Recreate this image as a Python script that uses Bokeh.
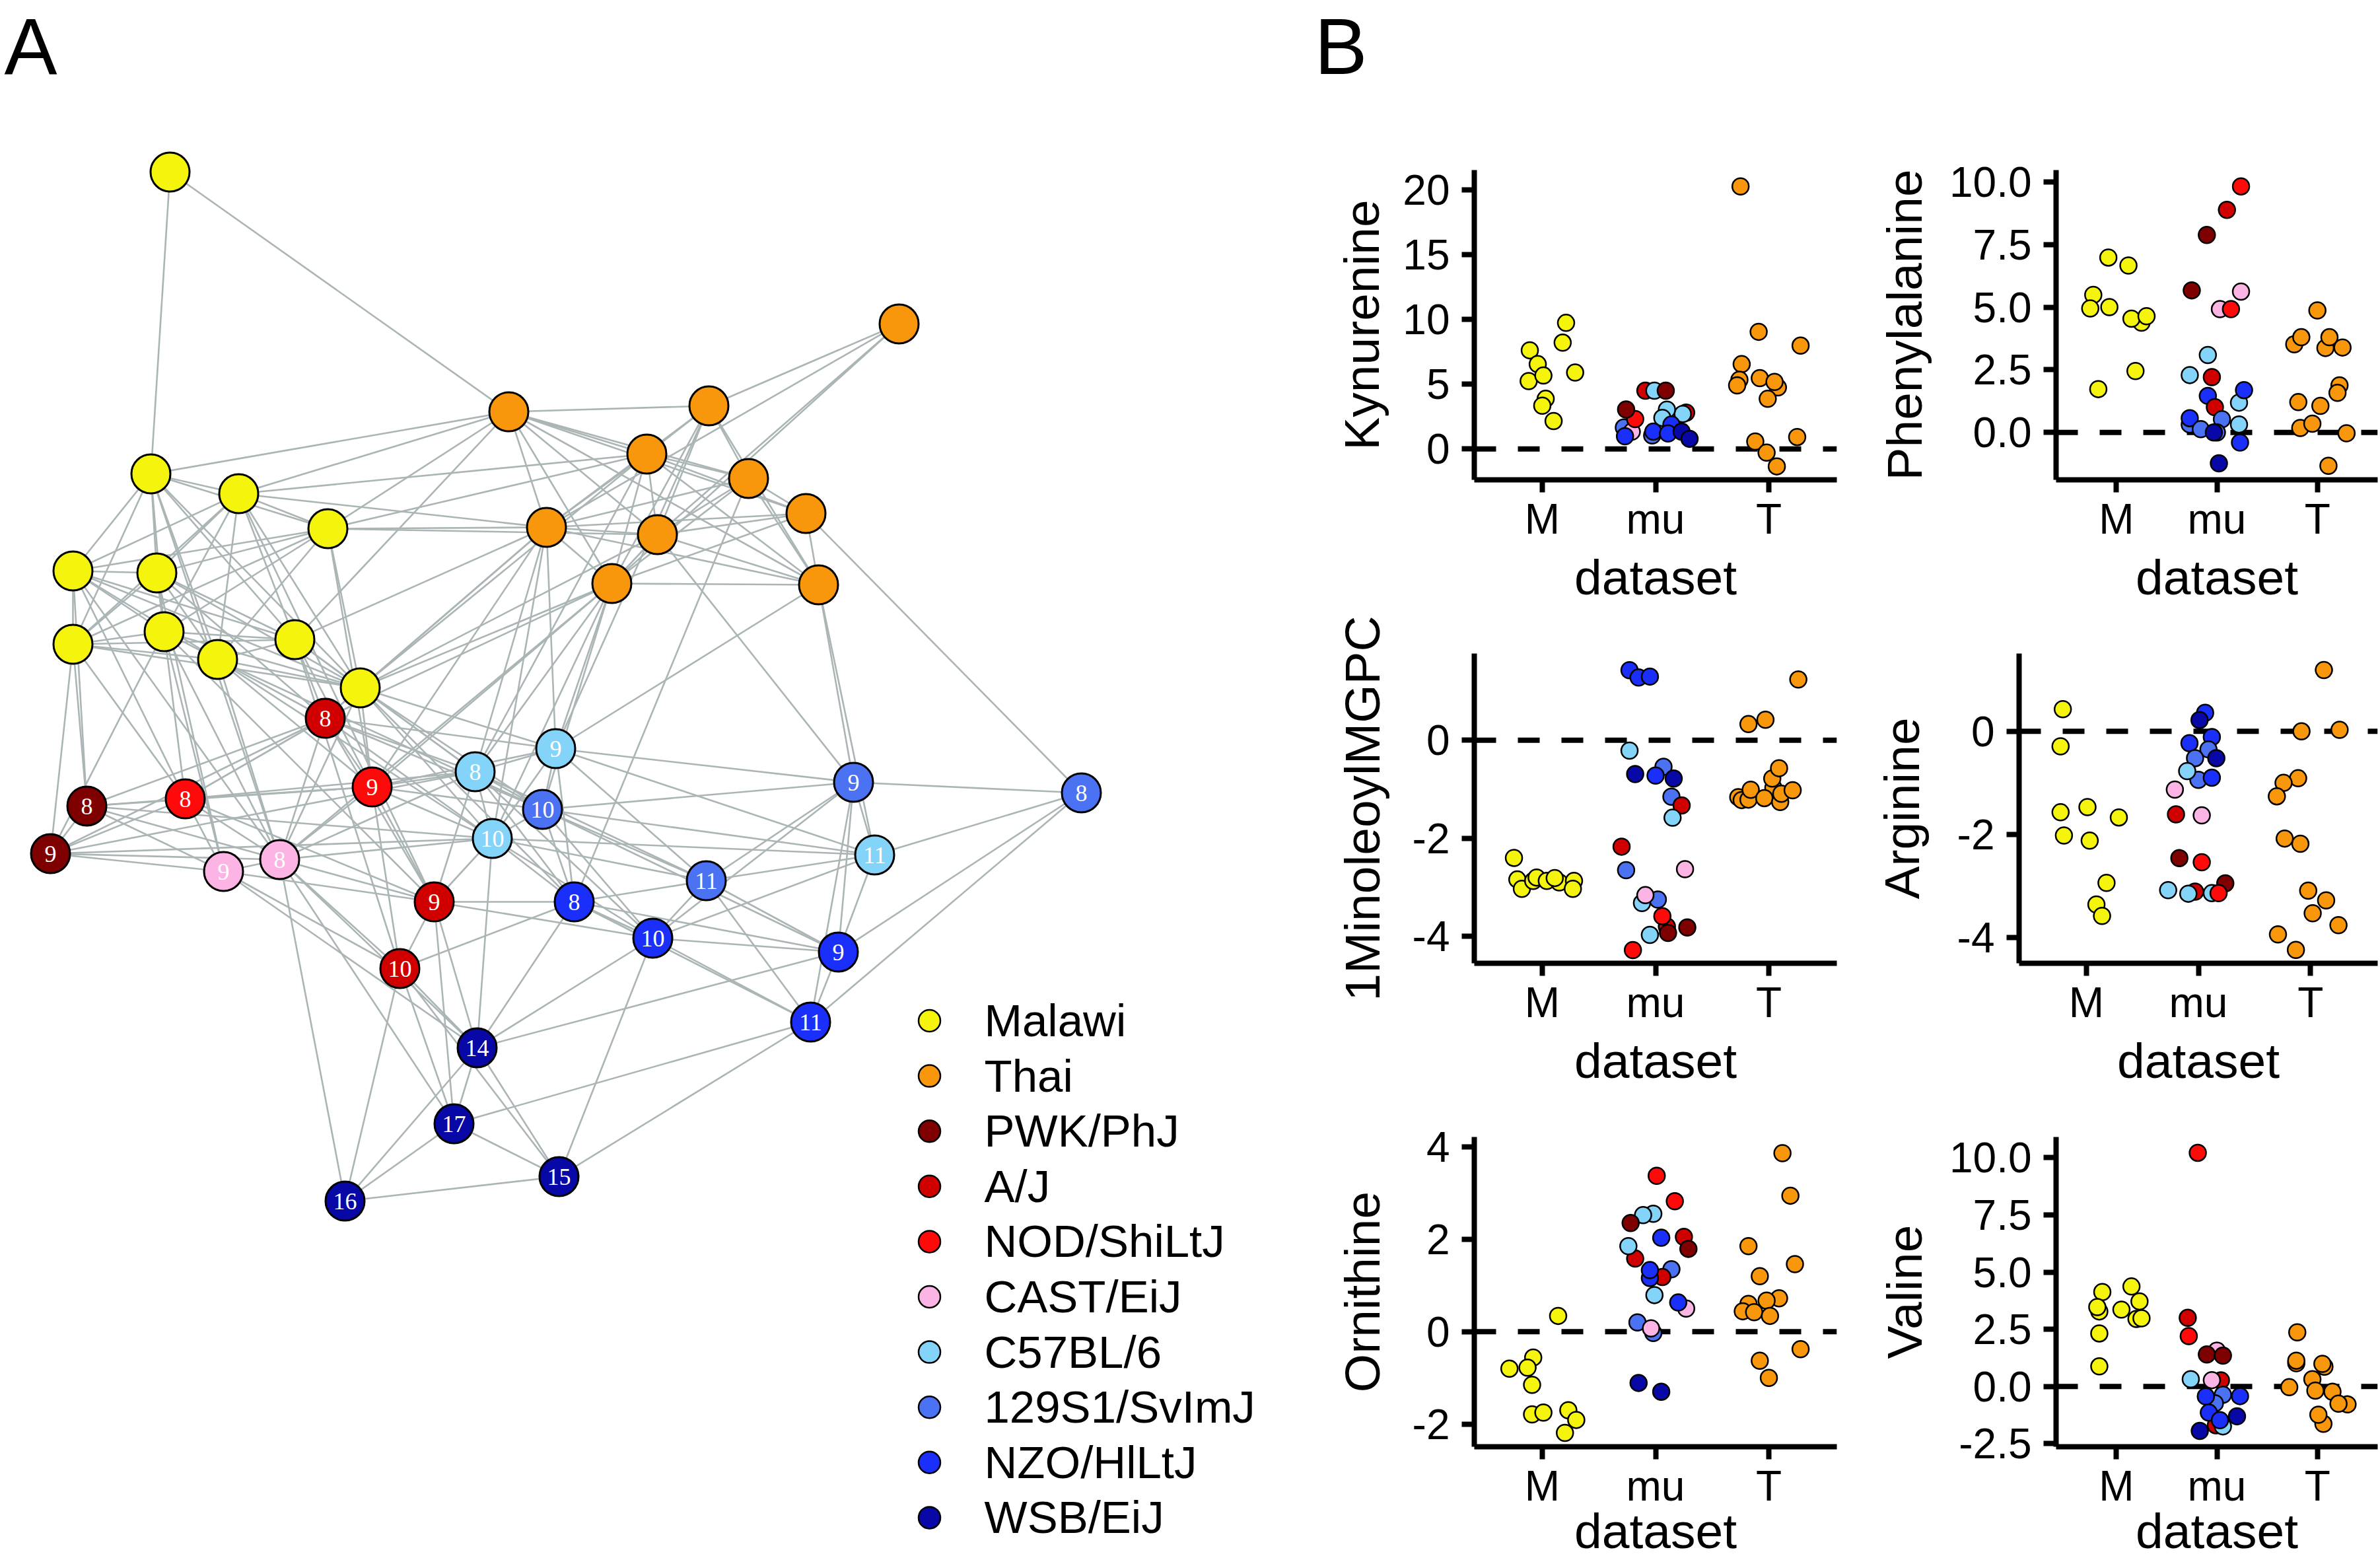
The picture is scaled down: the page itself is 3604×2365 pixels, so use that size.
from bokeh.plotting import figure
from bokeh.layouts import row, column
from bokeh.models import Range1d, FixedTicker, Span, ColumnDataSource
from bokeh.embed import file_html
from bokeh.resources import INLINE
from bokeh.core.properties import value

# ---------------- data ----------------
group_codes = ["M", "T", "PWK", "AJ", "NOD", "CAST", "B6", "129", "NZO", "WSB"]
group_names = ["Malawi", "Thai", "PWK/PhJ", "A/J", "NOD/ShiLtJ", "CAST/EiJ",
               "C57BL/6", "129S1/SvImJ", "NZO/HlLtJ", "WSB/EiJ"]
group_colors = ["#f4f40c", "#f8960c", "#7f0000", "#d10000", "#ff0a0a", "#fbb4e4",
                "#84d4fa", "#4a72f2", "#1a30fa", "#0808a6"]

# network (panel A): node positions (pixel layout)
node_id = ["Y0", "Y1", "Y2", "Y3", "Y4", "Y5", "Y6", "Y7", "Y8", "Y9", "Y10",
           "O0", "O1", "O2", "O3", "O4", "O5", "O6", "O7", "O8", "O9",
           "AJ8", "AJ9", "AJ10", "NOD8", "NOD9", "PWK8", "PWK9", "CAST8", "CAST9",
           "B6_8", "B6_9", "B6_10", "B6_11", "S8", "S9", "S10", "S11",
           "N8", "N9", "N10", "N11", "W14", "W15", "W16", "W17"]
node_x = [257, 228, 361, 496, 110, 237, 110, 248, 329, 446, 545,
          1361, 770, 1073, 979, 1133, 1220, 827, 995, 926, 1239,
          492, 657, 605, 280, 563, 131, 76, 423, 338,
          719, 841, 745, 1324, 1637, 1292, 821, 1069,
          869, 1269, 988, 1227, 722, 846, 522, 687]
node_y = [260, 717, 747, 800, 864, 867, 975, 956, 998, 968, 1041,
          490, 623, 614, 687, 724, 777, 798, 809, 883, 885,
          1087, 1365, 1466, 1209, 1191, 1220, 1292, 1301, 1319,
          1168, 1133, 1269, 1294, 1200, 1184, 1225, 1333,
          1365, 1441, 1420, 1547, 1586, 1781, 1818, 1701]
node_group = ["M"] * 11 + ["T"] * 10 + ["AJ", "AJ", "AJ", "NOD", "NOD", "PWK", "PWK", "CAST", "CAST",
                                        "B6", "B6", "B6", "B6", "129", "129", "129", "129",
                                        "NZO", "NZO", "NZO", "NZO", "WSB", "WSB", "WSB", "WSB"]
node_label = [""] * 21 + ["8", "9", "10", "8", "9", "8", "9", "8", "9",
                          "8", "9", "10", "11", "8", "9", "10", "11",
                          "8", "9", "10", "11", "14", "15", "16", "17"]
edges = """Y0-Y1 Y1-Y2 Y1-Y3 Y1-Y4 Y1-Y5 Y1-Y6 Y1-Y7 Y1-Y8 Y1-Y9 Y1-Y10
Y2-Y3 Y2-Y4 Y2-Y5 Y2-Y6 Y2-Y7 Y2-Y8 Y2-Y9 Y2-Y10 Y3-Y4 Y3-Y5 Y3-Y6 Y3-Y7 Y3-Y8 Y3-Y10
Y4-Y5 Y4-Y6 Y4-Y7 Y4-Y8 Y4-Y9 Y4-Y10 Y5-Y6 Y5-Y7 Y5-Y8 Y5-Y9 Y5-Y10 Y6-Y7 Y6-Y8 Y6-Y9 Y6-Y10
Y7-Y8 Y7-Y9 Y7-Y10 Y8-Y9 Y8-Y10 Y9-Y10
Y0-O1 Y1-O1 Y2-O1 Y2-O3 Y2-O6 Y3-O1 Y3-O3 Y3-O6 Y3-O7 Y9-O1 Y9-O6 Y10-O6 Y10-O8 Y10-O3 Y10-O7
O0-O2 O0-O6 O0-O7 O0-O8 O1-O2 O1-O3 O1-O4 O1-O5 O1-O6 O1-O7 O1-O8 O1-O9
O2-O3 O2-O4 O2-O6 O2-O7 O2-O8 O2-O9 O3-O4 O3-O5 O3-O6 O3-O7 O3-O8 O3-O9
O4-O5 O4-O6 O4-O7 O4-O8 O4-O9 O5-O6 O5-O7 O5-O8 O5-O9 O6-O7 O6-O8 O6-O9 O7-O8 O7-O9 O8-O9
O5-S8 O9-S9 O9-B6_11 O9-B6_9 O7-S9 O8-B6_8 O8-B6_9 O8-S10 O8-B6_10 O8-AJ8 O8-NOD9
O6-B6_9 O6-B6_8 O6-AJ8 O6-NOD9 O6-B6_10 O3-B6_8 O2-B6_9 O4-N8 O8-CAST8
Y6-PWK8 Y6-PWK9 Y4-PWK8 Y4-NOD8 Y5-NOD8 Y5-CAST9 Y5-AJ8 Y7-CAST9 Y7-CAST8 Y7-PWK9 Y7-AJ9
Y8-AJ8 Y8-NOD9 Y8-CAST8 Y8-B6_10 Y9-AJ8 Y9-NOD9 Y9-AJ10 Y10-AJ8 Y10-B6_8 Y10-B6_9 Y10-S10
Y10-NOD9 Y10-B6_10 Y10-N8 Y10-CAST8 Y3-NOD9 Y1-CAST8 Y2-AJ9 Y6-NOD8 Y4-CAST8 Y8-S10 Y9-B6_8
PWK8-PWK9 PWK8-NOD8 PWK8-NOD9 PWK8-AJ8 PWK8-CAST8 PWK8-CAST9 PWK8-B6_10
PWK9-CAST9 PWK9-CAST8 PWK9-B6_10 PWK9-NOD8 PWK9-AJ8 PWK9-B6_8
NOD8-AJ8 NOD8-NOD9 NOD8-CAST8 NOD8-CAST9 NOD8-AJ9 NOD8-B6_8
AJ8-NOD9 AJ8-B6_8 AJ8-B6_9 AJ8-B6_10 AJ8-S10 AJ8-AJ9 AJ8-CAST8
NOD9-B6_8 NOD9-B6_9 NOD9-CAST8 NOD9-AJ9 NOD9-B6_10 NOD9-S10 NOD9-AJ10
CAST8-CAST9 CAST8-B6_8 CAST8-B6_10 CAST8-AJ9 CAST8-AJ10 CAST8-W14 CAST8-W16 CAST8-W17
CAST9-AJ10 CAST9-W14 CAST9-AJ9
B6_8-B6_9 B6_8-B6_10 B6_8-S10 B6_8-N8 B6_8-N10 B6_8-AJ9 B6_8-S11
B6_9-S10 B6_9-B6_10 B6_9-S11 B6_9-N8 B6_9-B6_11 B6_9-S9
S10-B6_10 S10-N8 S10-N10 S10-S11 S10-S9 S10-B6_11 S10-N9
B6_10-AJ9 B6_10-N8 B6_10-N10 B6_10-S11 B6_10-W14 B6_10-B6_11
AJ9-N8 AJ9-AJ10 AJ9-W14 AJ9-W17 AJ9-N10 N8-N10 N8-N9 N8-S11 N8-W14 N8-AJ10 N8-N11
S11-N10 S11-N9 S11-N11 S11-B6_11 S11-S9 S9-S8 S9-B6_11 S9-N9 S9-N11 S9-N10
S8-B6_11 S8-N11 S8-N9 B6_11-N9 B6_11-N10 N10-N9 N10-N11 N10-W15 N10-W14 N9-N11 N9-W14
N11-W17 N11-W15 AJ10-W14 AJ10-W17 AJ10-W16 AJ10-W15 W14-W17 W14-W15 W14-W16
W17-W15 W17-W16 W15-W16""".split()

# panel B: x categories and metabolite titles
x_categories = ["M", "mu", "T"]
x_title = "dataset"

kyn_x = [0.89, 0.96, 0.88, 1.01, 1.03, 1.00, 1.10, 1.18, 1.21, 1.29,
         1.91, 1.99, 2.09, 1.72, 1.79, 1.82, 1.74, 1.73, 2.27, 2.24, 2.10, 2.06, 1.97, 1.98, 2.14, 2.11, 2.23, 2.30,
         2.75, 2.91, 3.28, 2.76, 2.74, 2.72, 2.92, 3.08, 3.05, 2.99, 2.88, 3.25, 2.98, 3.07]
kyn_y = [7.62, 6.55, 5.24, 5.67, 3.87, 3.34, 2.15, 8.21, 9.74, 5.90,
         4.50, 4.50, 4.50, 1.66, 1.33, 2.31, 3.05, 0.98, 2.80, 2.70, 3.03, 2.40, 1.04, 1.33, 1.88, 1.19, 1.33, 0.78,
         20.29, 9.05, 7.98, 6.55, 5.34, 4.91, 5.47, 4.75, 5.18, 3.87, 0.57, 0.92, -0.29, -1.35]
kyn_g = ["M"] * 10 + ["AJ", "B6", "PWK", "129", "CAST", "NOD", "PWK", "NZO", "AJ", "B6", "B6", "B6",
                      "129", "NZO", "NZO", "NZO", "WSB", "WSB"] + ["T"] * 14

phe_x = [0.92, 1.12, 0.77, 0.74, 0.93, 1.25, 1.15, 1.30, 1.19, 0.82,
         2.24, 2.10, 1.90, 1.75, 2.24, 2.03, 2.14, 1.91, 1.73, 1.95, 2.22, 2.27, 1.91, 1.98, 1.73, 1.73,
         1.84, 2.05, 2.00, 1.97, 2.22, 2.23, 2.02,
         3.00, 2.77, 2.84, 3.08, 3.12, 3.25, 3.22, 3.20, 2.81, 3.03, 2.83, 2.95, 3.29, 3.11]
phe_y = [6.98, 6.66, 5.49, 4.95, 5.00, 4.38, 4.54, 4.64, 2.45, 1.73,
         9.82, 8.88, 7.88, 5.67, 5.62, 4.92, 4.92, 3.09, 2.29, 2.21, 1.19, 1.69, 1.46, 1.01, 0.32, 0.57,
         0.13, 0.53, 0.00, 0.00, 0.32, -0.40, -1.23,
         4.87, 3.52, 3.80, 3.37, 3.80, 3.39, 1.88, 1.58, 1.21, 1.06, 0.18, 0.35, -0.03, -1.33]
phe_g = ["M"] * 10 + ["NOD", "AJ", "PWK", "PWK", "CAST", "CAST", "NOD", "B6", "B6", "AJ", "B6", "NZO",
                      "NZO", "AJ", "129", "NZO", "129", "129", "129", "WSB", "B6", "NZO", "WSB"] + ["T"] * 14

mgpc_x = [0.75, 0.78, 0.82, 0.92, 0.95, 1.04, 1.15, 1.11, 1.28, 1.27,
          1.77, 1.85, 1.95, 1.77, 2.07, 1.82, 2.00, 2.16, 2.14, 2.23, 2.15, 1.70, 1.74, 2.26, 1.88, 2.02,
          1.91, 2.10, 2.06, 2.11, 2.28, 1.95, 1.80,
          3.26, 2.82, 2.97, 3.04, 3.03, 3.09, 2.73, 2.76, 2.82, 2.84, 2.96, 3.10, 3.11, 3.21]
mgpc_y = [-2.40, -2.84, -3.03, -2.87, -2.80, -2.87, -2.90, -2.81, -2.87, -3.03,
          1.43, 1.28, 1.30, -0.21, -0.54, -0.69, -0.72, -0.78, -1.15, -1.33, -1.58, -2.17, -2.65, -2.63,
          -3.32, -3.25, -3.16, -3.80, -3.59, -3.93, -3.82, -3.97, -4.28,
          1.24, 0.33, 0.42, -0.97, -0.78, -0.57, -1.16, -1.22, -1.21, -1.01, -1.18, -1.26, -1.09, -1.02]
mgpc_g = ["M"] * 10 + ["NZO", "NZO", "NZO", "B6", "129", "WSB", "NZO", "WSB", "129", "AJ", "B6", "AJ",
                       "129", "CAST", "B6", "129", "CAST", "AJ", "NOD", "PWK", "PWK", "B6", "NOD"] + ["T"] * 14

arg_x = [0.79, 0.77, 0.77, 1.01, 1.29, 0.80, 1.03, 1.18, 1.09, 1.14,
         2.06, 2.01, 2.12, 1.92, 2.09, 1.97, 2.16, 2.00, 1.90, 2.12, 1.79, 1.80, 2.03, 1.83, 2.03,
         1.73, 1.97, 1.91, 2.12, 2.24, 2.18,
         3.12, 2.92, 3.26, 2.89, 2.76, 2.70, 2.77, 2.91, 2.98, 3.14, 3.02, 3.25, 2.71, 2.87]
arg_y = [0.43, -0.29, -1.57, -1.47, -1.67, -2.02, -2.12, -2.94, -3.36, -3.58,
         0.36, 0.22, -0.11, -0.23, -0.35, -0.52, -0.52, -0.94, -0.77, -0.90, -1.13, -1.61, -1.63, -2.46, -2.54,
         -3.08, -3.11, -3.15, -3.14, -2.95, -3.14,
         1.19, 0.00, 0.03, -0.91, -1.00, -1.26, -2.08, -2.18, -3.09, -3.28, -3.53, -3.76, -3.94, -4.24]
arg_g = ["M"] * 10 + ["NZO", "WSB", "NZO", "NZO", "129", "129", "WSB", "129", "B6", "NZO", "CAST", "AJ",
                      "CAST", "PWK", "NOD", "B6", "AJ", "B6", "B6", "PWK", "NOD"] + ["T"] * 14

orn_x = [1.14, 0.92, 0.71, 0.87, 0.91, 0.91, 1.01, 1.23, 1.30, 1.20,
         2.01, 2.17, 1.98, 1.89, 1.78, 2.05, 2.25, 2.29, 1.82, 1.76, 2.14, 2.06, 1.95, 1.95, 1.99, 2.27,
         2.20, 1.84, 1.98, 1.96, 1.85, 2.05,
         3.12, 3.19, 2.82, 3.23, 2.92, 3.09, 2.82, 2.98, 2.77, 2.87, 3.01, 3.28, 2.92, 3.00]
orn_y = [0.34, -0.56, -0.80, -0.78, -1.15, -1.79, -1.75, -1.70, -1.91, -2.19,
         3.37, 2.82, 2.55, 2.52, 2.35, 2.03, 2.05, 1.79, 1.58, 1.85, 1.35, 1.18, 1.16, 1.33, 0.79, 0.50,
         0.63, 0.20, -0.03, 0.07, -1.11, -1.30,
         3.86, 2.94, 1.85, 1.46, 1.20, 0.72, 0.60, 0.67, 0.44, 0.42, 0.34, -0.38, -0.63, -1.00]
orn_g = ["M"] * 10 + ["NOD", "NOD", "B6", "B6", "PWK", "NZO", "AJ", "PWK", "AJ", "B6", "129", "AJ",
                      "NZO", "NZO", "B6", "CAST", "NZO", "129", "129", "CAST", "WSB", "WSB"] + ["T"] * 14

val_x = [0.86, 1.15, 1.23, 0.83, 0.81, 1.05, 1.20, 1.25, 0.83, 0.83,
         1.81, 1.71, 1.72, 2.00, 1.90, 2.06, 1.74, 2.04, 1.95, 2.06, 1.98, 1.89, 2.23, 1.99, 2.06,
         1.92, 2.20, 2.03, 1.83,
         2.80, 2.79, 2.79, 3.07, 3.05, 2.72, 2.95, 2.98, 3.15, 3.30, 3.21, 3.06, 3.01]
val_y = [4.13, 4.37, 3.72, 3.28, 3.47, 3.36, 2.95, 2.98, 2.32, 0.88,
         10.21, 3.00, 2.20, 1.57, 1.40, 1.35, 0.32, 0.27, 0.28, -0.36, -0.73, -0.43, -0.42, -1.69, -1.74,
         -1.14, -1.30, -1.47, -1.94,
         2.37, 1.02, 1.13, 0.87, 0.99, -0.03, 0.32, -0.18, -0.23, -0.78, -0.75, -1.63, -1.23]
val_g = ["M"] * 10 + ["NOD", "AJ", "NOD", "CAST", "PWK", "PWK", "B6", "AJ", "CAST", "129", "129", "NZO",
                      "NZO", "AJ", "B6", "NZO", "WSB", "NZO", "WSB"] + ["T"] * 13

panel_titles = ["Kynurenine", "Phenylalanine", "1MinoleoylMGPC", "Arginine", "Ornithine", "Valine"]
panel_yranges = [(-2.39, 21.55), (-1.89, 10.47), (-4.55, 1.77), (-4.50, 1.51), (-2.49, 4.21), (-2.63, 10.90)]
panel_ticks = [[0, 5, 10, 15, 20], [0, 2.5, 5, 7.5, 10], [-4, -2, 0], [-4, -2, 0], [-2, 0, 2, 4],
               [-2.5, 0, 2.5, 5, 7.5, 10]]
panel_tick_labels = [["0", "5", "10", "15", "20"], ["0.0", "2.5", "5.0", "7.5", "10.0"], ["-4", "-2", "0"],
                     ["-4", "-2", "0"], ["-2", "0", "2", "4"], ["-2.5", "0.0", "2.5", "5.0", "7.5", "10.0"]]
panel_data = [(kyn_x, kyn_y, kyn_g), (phe_x, phe_y, phe_g), (mgpc_x, mgpc_y, mgpc_g),
              (arg_x, arg_y, arg_g), (orn_x, orn_y, orn_g), (val_x, val_y, val_g)]

# ---------------- styling ----------------
cmap = dict(zip(group_codes, group_colors))
SANS = "Liberation Sans"
SERIF = "Liberation Serif"
EDGE_COLOR = "#abb5b5"
W_TOTAL, H_TOTAL = 3604, 2365
NET_W = 1950
LETTER_Y = 69   # anchor of the panel letters (pixels from the top)

# ---------------- panel A: network ----------------
net = figure(width=NET_W, height=H_TOTAL, x_range=Range1d(0, NET_W), y_range=Range1d(H_TOTAL, 0),
             output_backend="svg", toolbar_location=None, x_axis_location=None, y_axis_location=None,
             min_border=0, title=None)
net.grid.visible = False
net.outline_line_color = None

pos = {n: (x, y) for n, x, y in zip(node_id, node_x, node_y)}
e_pairs = [e.split("-") for e in edges]
esrc = ColumnDataSource(dict(x0=[pos[a][0] for a, b in e_pairs], y0=[pos[a][1] for a, b in e_pairs],
                             x1=[pos[b][0] for a, b in e_pairs], y1=[pos[b][1] for a, b in e_pairs]))
net.segment("x0", "y0", "x1", "y1", source=esrc, line_color=EDGE_COLOR, line_width=2.6)

nsrc = ColumnDataSource(dict(x=node_x, y=node_y, c=[cmap[g] for g in node_group], lab=node_label))
net.scatter("x", "y", source=nsrc, size=59, fill_color="c", line_color="black", line_width=3)
net.text("x", "y", text="lab", source=nsrc, text_color="white", text_font=value(SERIF),
         text_font_size="36px", text_align="center", text_baseline="middle")

# legend
leg_y = [1545 + 83.6 * i for i in range(len(group_names))]
lsrc = ColumnDataSource(dict(x=[1407] * len(group_names), tx=[1490] * len(group_names), y=leg_y,
                             c=group_colors, name=group_names))
net.scatter("x", "y", source=lsrc, size=33, fill_color="c", line_color="black", line_width=2.5)
net.text("tx", "y", text="name", source=lsrc, text_color="black", text_font=value(SANS),
         text_font_size="69px", text_align="left", text_baseline="middle")

net.text(x=[6], y=[LETTER_Y], text=["A"], text_font=value(SANS), text_font_size="120px",
         text_color="black", text_baseline="alphabetic", text_align="left")

# ---------------- panel B header ("B") ----------------
HEAD_H = 200
head = figure(width=W_TOTAL - NET_W, height=HEAD_H, x_range=Range1d(NET_W, W_TOTAL),
              y_range=Range1d(HEAD_H, 0), output_backend="svg", toolbar_location=None,
              x_axis_location=None, y_axis_location=None, min_border=0, title=None)
head.grid.visible = False
head.outline_line_color = None
head.text(x=[1990], y=[LETTER_Y], text=["B"], text_font=value(SANS), text_font_size="120px",
          text_color="black", text_baseline="alphabetic", text_align="left")

# ---------------- panel B: jitter plots ----------------
geom = [  # width, height, border left, right, top, bottom
    (850, 722, 282, 19, 57, 196), (804, 722, 313, 4, 57, 196),
    (850, 732, 282, 19, 67, 196), (804, 732, 257, 4, 67, 196),
    (850, 711, 282, 19, 67, 175), (804, 711, 313, 4, 67, 175),
]
ytitle_standoff = [17, 23, 31, 39, 31, 23]

plots = []
for i in range(6):
    w, h, bl, br, bt, bb = geom[i]
    xs, ys, gs = panel_data[i]
    p = figure(width=w, height=h, x_range=Range1d(0.4, 3.6), y_range=Range1d(*panel_yranges[i]),
               output_backend="svg", toolbar_location=None, title=None,
               min_border_left=bl, min_border_right=br, min_border_top=bt, min_border_bottom=bb)
    p.grid.visible = False
    p.outline_line_color = None
    p.add_layout(Span(location=0, dimension="width", line_color="black", line_width=8,
                      line_dash="33 33", level="underlay"))
    src = ColumnDataSource(dict(x=xs, y=ys, c=[cmap[g] for g in gs]))
    p.scatter("x", "y", source=src, size=25, fill_color="c", line_color="black", line_width=2.5)

    xa = p.xaxis[0]
    ya = p.yaxis[0]
    xa.ticker = FixedTicker(ticks=[1, 2, 3])
    xa.major_label_overrides = {k + 1: c for k, c in enumerate(x_categories)}
    ya.ticker = FixedTicker(ticks=[float(t) for t in panel_ticks[i]])
    ya.major_label_overrides = {float(t): l for t, l in zip(panel_ticks[i], panel_tick_labels[i])}
    xa.axis_label = x_title
    ya.axis_label = panel_titles[i]
    for ax in (xa, ya):
        ax.axis_line_width = 8
        ax.axis_line_color = "black"
        ax.major_tick_line_width = 8
        ax.major_tick_line_color = "black"
        ax.major_tick_out = 19
        ax.major_tick_in = 0
        ax.minor_tick_line_color = None
        ax.major_label_text_font = SANS
        ax.major_label_text_font_size = "64px"
        ax.major_label_text_color = "black"
        ax.axis_label_text_font = SANS
        ax.axis_label_text_font_size = "75px"
        ax.axis_label_text_font_style = "normal"
        ax.axis_label_text_color = "black"
    xa.major_label_standoff = 4
    xa.axis_label_standoff = 7 if i < 4 else -13
    ya.major_label_standoff = 18
    ya.axis_label_standoff = ytitle_standoff[i]
    plots.append(p)

right = column(head, row(plots[0], plots[1]), row(plots[2], plots[3]), row(plots[4], plots[5]))
layout = row(net, right)

open("out.html", "w").write(file_html(layout, INLINE))
